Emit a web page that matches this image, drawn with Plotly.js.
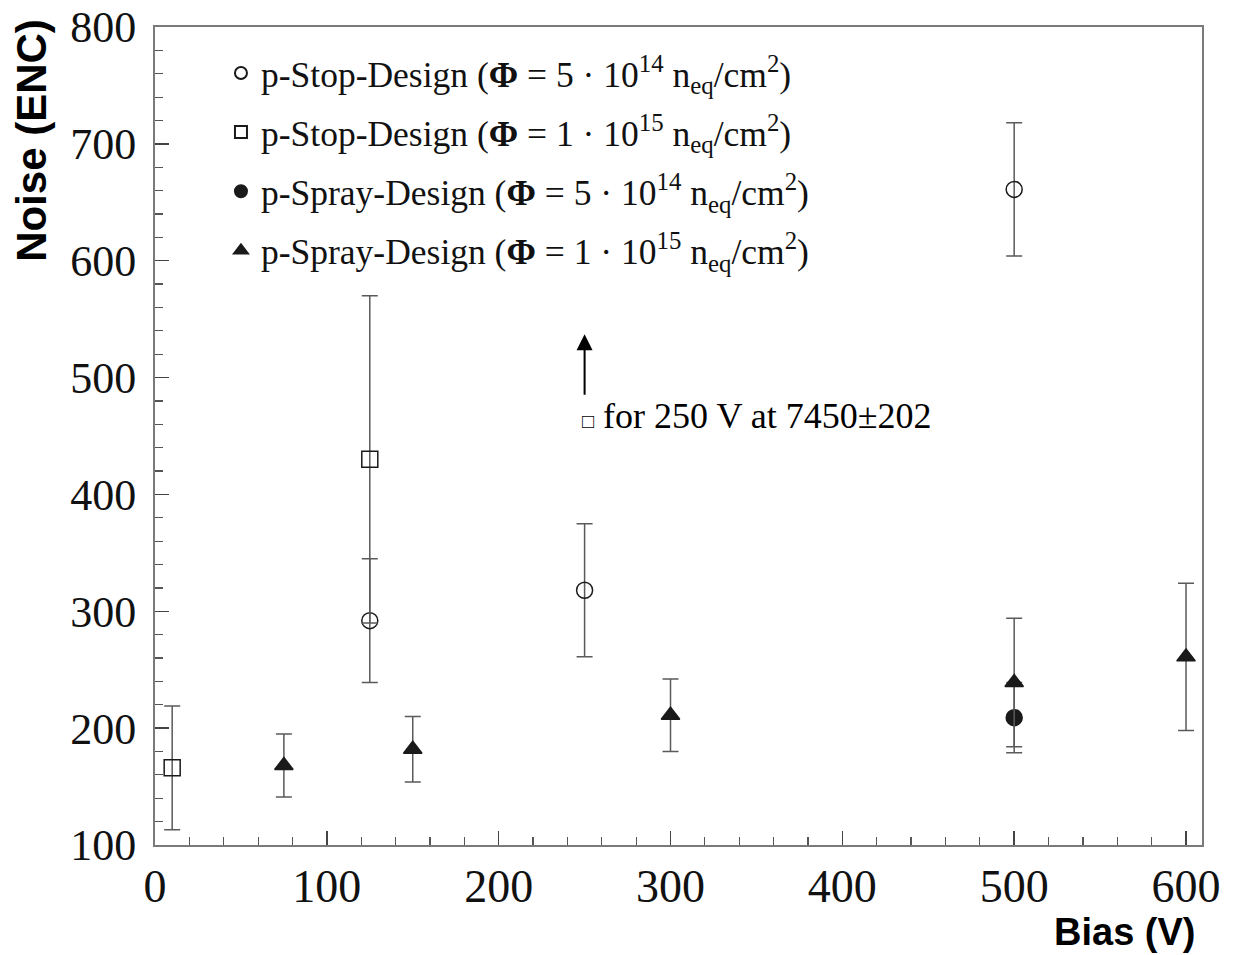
<!DOCTYPE html>
<html>
<head>
<meta charset="utf-8">
<script src="https://cdn.plot.ly/plotly-3.0.1.min.js"></script>
<style>html,body{margin:0;padding:0;background:#fff;}#chart{width:1236px;height:955px;}</style>
</head>
<body>
<div id="chart"></div>
<script>
// ---- data ----
const stop5_x = [125, 250, 500];
const stop5_y = [292, 318, 661];
const stop5_err = [53, 57, 57];

const stop1_x = [10, 125];
const stop1_y = [166, 430];
const stop1_err = [53, 140];

const spray5_x = [500];
const spray5_y = [209];
const spray5_err = [30];

const spray1_x = [75, 150, 300, 500, 600];
const spray1_y = [168, 182, 211, 239, 261];
const spray1_err = [27, 28, 31, 55, 63];

// off-scale p-Stop (1e15) point
const offscale_x = 250;
const offscale_y = 7450;
const offscale_err = 202;

const seriesNames = [
  'p-Stop-Design (<b>Φ</b> = 5 · 10<sup>14</sup> n<sub>eq</sub>/cm<sup>2</sup>)',
  'p-Stop-Design (<b>Φ</b> = 1 · 10<sup>15</sup> n<sub>eq</sub>/cm<sup>2</sup>)',
  'p-Spray-Design (<b>Φ</b> = 5 · 10<sup>14</sup> n<sub>eq</sub>/cm<sup>2</sup>)',
  'p-Spray-Design (<b>Φ</b> = 1 · 10<sup>15</sup> n<sub>eq</sub>/cm<sup>2</sup>)'
];
const xTickVals = [0, 100, 200, 300, 400, 500, 600];
const yTickVals = [100, 200, 300, 400, 500, 600, 700, 800];

// ---- styling ----
const serif = '"Liberation Serif", "Times New Roman", Times, serif';
const sans = '"Liberation Sans", Arial, Helvetica, sans-serif';
const errStyle = (arr) => ({type: 'data', array: arr, visible: true, color: '#5a5a5a', thickness: 1.5, width: 8});
const mk = (symbol) => ({symbol: symbol, size: 16, color: '#1a1a1a', line: {color: '#1a1a1a', width: 1.5}});

const traces = [
  {x: stop5_x, y: stop5_y, error_y: errStyle(stop5_err), mode: 'markers', type: 'scatter',
   name: seriesNames[0], legendgroup: 'a', marker: mk('circle-open')},
  {x: stop1_x, y: stop1_y, error_y: errStyle(stop1_err), mode: 'markers', type: 'scatter',
   name: seriesNames[1], legendgroup: 'b', marker: mk('square-open')},
  {x: spray5_x, y: spray5_y, error_y: errStyle(spray5_err), mode: 'markers', type: 'scatter',
   name: seriesNames[2], legendgroup: 'c', marker: mk('circle')},
  {x: spray1_x, y: spray1_y, error_y: errStyle(spray1_err), mode: 'markers', type: 'scatter',
   name: seriesNames[3], legendgroup: 'd', marker: mk('triangle-up')}
];

const axisLine = '#7a7a7a';
const layout = {
  width: 1236, height: 955,
  margin: {l: 155, r: 34, t: 27, b: 110},
  paper_bgcolor: '#fff', plot_bgcolor: '#fff',
  showlegend: true,
  legend: {
    x: 0.063, y: 0.98, xanchor: 'left', yanchor: 'top',
    bgcolor: 'rgba(0,0,0,0)', borderwidth: 0,
    traceorder: 'grouped', tracegroupgap: 10,
    itemsizing: 'constant',
    font: {family: serif, size: 35.5, color: '#111'}
  },
  xaxis: {
    range: [0, 609.3], tickvals: xTickVals, ticktext: xTickVals.map(String),
    ticks: 'inside', ticklen: 14, tickwidth: 1.5, tickcolor: '#444',
    minor: {dtick: 20, tick0: 0, ticks: 'inside', ticklen: 8, tickwidth: 1.2, tickcolor: '#555'},
    showline: true, linecolor: axisLine, linewidth: 2, mirror: true,
    showgrid: false, zeroline: false,
    tickfont: {family: serif, size: 46, color: '#111'},
    ticklabelstandoff: 0
  },
  yaxis: {
    range: [100, 800], tickvals: yTickVals, ticktext: yTickVals.map(String),
    ticks: 'inside', ticklen: 14, tickwidth: 1.5, tickcolor: '#444',
    minor: {dtick: 20, tick0: 100, ticks: 'inside', ticklen: 8, tickwidth: 1.2, tickcolor: '#555'},
    showline: true, linecolor: axisLine, linewidth: 2, mirror: true,
    showgrid: false, zeroline: false,
    tickfont: {family: serif, size: 44, color: '#111'},
    ticklabelstandoff: 8
  },
  annotations: [
    {x: offscale_x, y: 537, ax: offscale_x, ay: 484, xref: 'x', yref: 'y', axref: 'x', ayref: 'y',
     text: '', showarrow: true, arrowhead: 2, arrowsize: 1.6, arrowwidth: 2, arrowcolor: '#000'},
    {x: 247.5, y: 467, xref: 'x', yref: 'y', xanchor: 'left', yanchor: 'middle', showarrow: false,
     text: '<span style="font-size:20px">□</span> for ' + offscale_x + ' V at ' + offscale_y + '±' + offscale_err,
     font: {family: serif, size: 36, color: '#000'}},
    {x: -0.1175, y: 0.862, xref: 'paper', yref: 'paper', xanchor: 'center', yanchor: 'middle',
     textangle: -90, showarrow: false, text: '<b>Noise (ENC)</b>',
     font: {family: sans, size: 42, color: '#000'}},
    {x: 0.9952, y: -0.1064, xref: 'paper', yref: 'paper', xanchor: 'right', yanchor: 'middle',
     showarrow: false, text: '<b>Bias (V)</b>',
     font: {family: sans, size: 38, color: '#000'}}
  ]
};

Plotly.newPlot('chart', traces, layout, {displayModeBar: false, staticPlot: true});
</script>
</body>
</html>
